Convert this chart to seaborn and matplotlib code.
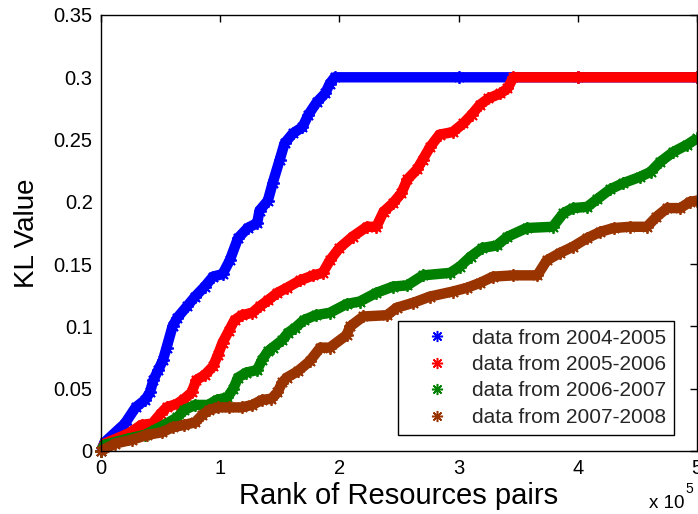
import matplotlib
matplotlib.use("Agg")
import matplotlib.pyplot as plt
from matplotlib.lines import Line2D
import seaborn as sns
import pandas as pd

# ---- data ----
labels = ["data from 2004-2005", "data from 2005-2006",
          "data from 2006-2007", "data from 2007-2008"]
colors = ["#0000FF", "#FF0000", "#008000", "#993300"]

x_0405 = [0, 3000, 20000, 29000, 37000, 41000, 44000, 48000, 52000, 55000, 60000, 64000,
          72000, 79000, 87000, 94000, 102000, 108000, 115000, 123000, 131000, 133000,
          140000, 144000, 150000, 154000, 161000, 169000, 174000, 181000, 188000,
          192000, 196000, 300000, 400000, 500000]
y_0405 = [0, 0.007, 0.022, 0.035, 0.041, 0.047, 0.057, 0.065, 0.073, 0.083, 0.100, 0.107,
          0.116, 0.124, 0.132, 0.140, 0.142, 0.153, 0.171, 0.179, 0.183, 0.193,
          0.201, 0.215, 0.234, 0.247, 0.255, 0.260, 0.270, 0.280, 0.287,
          0.295, 0.300, 0.300, 0.300, 0.300]

x_0506 = [0, 3000, 23000, 34000, 43000, 50000, 55000, 64000, 70000, 76000, 80000, 87000,
          94000, 98000, 102000, 107000, 112000, 118000, 127000, 133000, 140000, 148000,
          156000, 167000, 178000, 186000, 192000, 200000, 211000, 223000, 231000,
          237000, 245000, 252000, 257000, 265000, 270000, 276000, 284000, 295000,
          304000, 311000, 318000, 325000, 335000, 341000, 346000, 400000, 500000]
y_0506 = [0, 0.006, 0.014, 0.021, 0.022, 0.030, 0.035, 0.038, 0.042, 0.047, 0.057, 0.061,
          0.068, 0.077, 0.087, 0.096, 0.105, 0.109, 0.111, 0.116, 0.121, 0.127,
          0.131, 0.137, 0.141, 0.143, 0.153, 0.163, 0.172, 0.180, 0.180,
          0.192, 0.199, 0.207, 0.218, 0.226, 0.234, 0.244, 0.254, 0.256,
          0.263, 0.270, 0.278, 0.283, 0.287, 0.291, 0.300, 0.300, 0.300]

x_0607 = [0, 3000, 23000, 37000, 45000, 55000, 64000, 70000, 79000, 90000, 97000, 106000,
          111000, 115000, 122000, 131000, 135000, 140000, 144000, 152000, 157000,
          163000, 170000, 180000, 192000, 206000, 217000, 231000, 245000, 257000,
          270000, 293000, 301000, 310000, 320000, 332000, 341000, 357000, 379000,
          388000, 396000, 408000, 416000, 427000, 438000, 452000, 461000, 469000,
          480000, 492000, 500000]
y_0607 = [0, 0.005, 0.010, 0.013, 0.017, 0.022, 0.027, 0.033, 0.037, 0.037, 0.041, 0.043,
          0.050, 0.059, 0.063, 0.065, 0.073, 0.080, 0.083, 0.089, 0.095,
          0.099, 0.105, 0.109, 0.111, 0.118, 0.120, 0.127, 0.132, 0.133,
          0.141, 0.143, 0.148, 0.156, 0.163, 0.165, 0.172, 0.179, 0.180,
          0.191, 0.195, 0.196, 0.202, 0.210, 0.215, 0.220, 0.224, 0.232,
          0.240, 0.246, 0.251]

x_0708 = [0, 12000, 26000, 39000, 51000, 60000, 70000, 79000, 85000, 91000, 98000, 107000,
          118000, 127000, 135000, 143000, 148000, 152000, 156000, 165000, 175000,
          184000, 192000, 206000, 209000, 220000, 240000, 248000, 262000, 276000,
          295000, 307000, 318000, 329000, 346000, 366000, 374000, 385000, 396000,
          408000, 419000, 430000, 444000, 458000, 466000, 475000, 486000, 494000, 500000]
y_0708 = [0, 0.006, 0.009, 0.013, 0.015, 0.019, 0.021, 0.023, 0.029, 0.033, 0.035, 0.035,
          0.035, 0.037, 0.041, 0.042, 0.047, 0.055, 0.059, 0.064, 0.072,
          0.083, 0.083, 0.093, 0.100, 0.108, 0.109, 0.115, 0.119, 0.124,
          0.128, 0.131, 0.135, 0.140, 0.141, 0.141, 0.153, 0.159, 0.164,
          0.171, 0.176, 0.179, 0.180, 0.180, 0.188, 0.195, 0.195, 0.200, 0.201]

xs = [x_0405, x_0506, x_0607, x_0708]
ys = [y_0405, y_0506, y_0607, y_0708]

x_ticks = [0, 100000, 200000, 300000, 400000, 500000]
x_tick_labels = ["0", "1", "2", "3", "4", "5"]
y_ticks = [0, 0.05, 0.1, 0.15, 0.2, 0.25, 0.3, 0.35]
y_tick_labels = ["0", "0.05", "0.1", "0.15", "0.2", "0.25", "0.3", "0.35"]

# ---- style ----
sns.set_theme(style="white")
plt.rcParams["font.family"] = ["Liberation Sans", "DejaVu Sans"]

fig = plt.figure(figsize=(6.98, 5.14), dpi=100)
ax = fig.add_axes([101 / 698, 1 - 451 / 514, 596 / 698, 436 / 514])

star = (8, 2, 0)
for xv, yv, c, lab in zip(xs, ys, colors, labels):
    df = pd.DataFrame({"x": xv, "y": yv})
    sns.lineplot(data=df, x="x", y="y", ax=ax, color=c, linewidth=7.5,
                 marker=star, markersize=9, markeredgewidth=1.3,
                 markeredgecolor=c, estimator=None, sort=False,
                 solid_capstyle="butt", clip_on=False, zorder=3)

ax.set_xlim(0, 500000)
ax.set_ylim(0, 0.35)
ax.set_xticks(x_ticks)
ax.set_xticklabels(x_tick_labels)
ax.set_yticks(y_ticks)
ax.set_yticklabels(y_tick_labels)
ax.tick_params(direction="in", length=5, width=1, color="black",
               labelsize=14.5, top=True, right=True, labelcolor="black", pad=6)
for s in ax.spines.values():
    s.set_visible(True)
    s.set_color("black")
    s.set_linewidth(1.0)
    s.set_zorder(5)

ax.set_xlabel("Rank of Resources pairs", fontsize=21, color="black", labelpad=3)
ax.set_ylabel("KL Value", fontsize=20, color="black", labelpad=10)

fig.text(649 / 698, 1 - 503 / 514, "x 10", fontsize=13.5,
         ha="left", va="center", color="black")
fig.text(685 / 698, 1 - 489 / 514, "5", fontsize=10,
         ha="left", va="center", color="black")

handles = [Line2D([], [], linestyle="none", marker=star, markersize=8,
                  markeredgewidth=1.1, color=c) for c in colors]
leg = ax.legend(handles, labels, loc="upper left",
                bbox_to_anchor=((398 - 101) / 596, (451 - 321) / 436),
                fontsize=15, frameon=True, fancybox=False, framealpha=1,
                edgecolor="black", handlelength=3.0, handletextpad=0.2,
                borderpad=0.36, labelspacing=0.36, borderaxespad=0)
leg.get_frame().set_linewidth(1.0)
leg.set_zorder(10)

fig.savefig("out.png", dpi=100)
